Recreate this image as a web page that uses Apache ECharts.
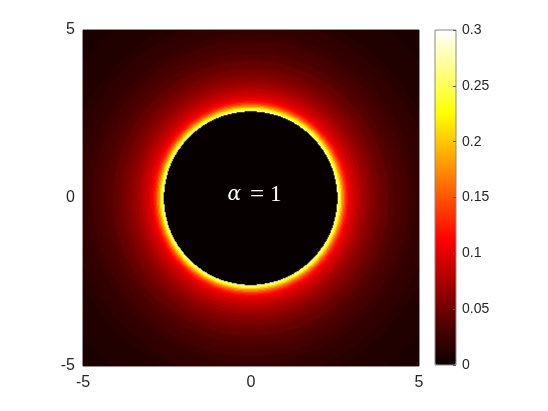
<!DOCTYPE html>
<html>
<head>
<meta charset="utf-8">
<script src="https://cdn.jsdelivr.net/npm/echarts@6/dist/echarts.min.js"></script>
<style>
  html, body { margin: 0; padding: 0; background: #fff; }
  #chart { width: 548px; height: 411px; }
</style>
</head>
<body>
<div id="chart"></div>
<script>
  // radial profile: distance from centre -> value
  var profileR = [2.58, 2.62, 2.66, 2.70, 2.74, 2.78, 2.82, 2.86, 2.90, 2.95, 3.00,
    3.10, 3.20, 3.30, 3.40, 3.50, 3.60, 3.70, 3.80, 3.90, 4.00,
    4.20, 4.40, 4.60, 4.80, 5.00, 5.25, 5.50, 5.75, 6.00, 6.30, 6.60, 6.90, 7.10]
  var profileV = [0.290, 0.255, 0.225, 0.200, 0.175, 0.155, 0.138, 0.125, 0.114, 0.105, 0.098,
    0.090, 0.083, 0.076, 0.070, 0.064, 0.059, 0.055, 0.051, 0.047, 0.044,
    0.038, 0.033, 0.029, 0.025, 0.022, 0.019, 0.016, 0.014, 0.012, 0.011, 0.010, 0.009, 0.008]
  var holeRadius = 2.58 // dark disc in the middle
  var holeValue = 0
  var axisTicks = [-5, 0, 5]
  var colorbarTicks = [0, 0.05, 0.1, 0.15, 0.2, 0.25, 0.3]
  var hotColors = ['#0b0000', '#550000', '#aa0000', '#ff0000', '#ff5500', '#ffaa00', '#ffff00', '#ffff80', '#ffffff']

  var N = 336 // cells per side
  var cats = []
  for (var i = 0; i < N; i++) cats.push(i)

  function lookup (r) {
    if (r < holeRadius) return holeValue
    var best = 0
    for (var k = 1; k < profileR.length; k++) {
      if (Math.abs(profileR[k] - r) < Math.abs(profileR[best] - r)) best = k
    }
    return profileV[best]
  }

  var cells = []
  for (var ix = 0; ix < N; ix++) {
    for (var iy = 0; iy < N; iy++) {
      var x = -5 + (ix + 0.5) * 10 / N
      var y = -5 + (iy + 0.5) * 10 / N
      cells.push([ix, iy, lookup(Math.sqrt(x * x + y * y))])
    }
  }

  var labelStyle = {color: '#262626', fontFamily: 'Liberation Sans, Arial, sans-serif', fontSize: 16}
  var chart = echarts.init(document.getElementById('chart'))
  chart.setOption({
    animation: false,
    backgroundColor: '#fff',
    grid: [
      {left: 83, top: 30, width: 336, height: 336, show: true, borderColor: '#b0b0b0', borderWidth: 1},
      {left: 435, top: 30, width: 21, height: 335, show: true, borderColor: '#8a8a8a', borderWidth: 1, backgroundColor: 'transparent', zlevel: 1}
    ],
    xAxis: [
      {type: 'category', data: cats, gridIndex: 0, position: 'top', show: false},
      {type: 'value', gridIndex: 0, position: 'bottom', min: axisTicks[0], max: axisTicks[2], interval: 5,
        axisLine: {show: false, onZero: false}, axisTick: {show: false}, splitLine: {show: false},
        axisLabel: Object.assign({margin: 9}, labelStyle)},
      {type: 'value', gridIndex: 1, position: 'bottom', show: false, min: 0, max: 1, axisLine: {onZero: false}}
    ],
    yAxis: [
      {type: 'category', data: cats, gridIndex: 0, position: 'right', show: false},
      {type: 'value', gridIndex: 0, position: 'left', min: axisTicks[0], max: axisTicks[2], interval: 5,
        axisLine: {show: false, onZero: false}, axisTick: {show: false}, splitLine: {show: false},
        axisLabel: Object.assign({margin: 8}, labelStyle)},
      {type: 'value', gridIndex: 1, position: 'right', min: colorbarTicks[0], max: colorbarTicks[6], interval: 0.05, zlevel: 1,
        axisLine: {show: false, onZero: false},
        axisTick: {show: true, inside: true, length: 3, lineStyle: {color: '#555'}},
        splitLine: {show: false},
        axisLabel: {margin: 6, color: '#262626', fontFamily: 'Liberation Sans, Arial, sans-serif', fontSize: 14}}
    ],
    visualMap: {
      type: 'continuous',
      min: colorbarTicks[0],
      max: colorbarTicks[6],
      seriesIndex: 0,
      calculable: false,
      left: 435,
      top: 30,
      padding: 0,
      itemWidth: 21,
      itemHeight: 335,
      text: null,
      inRange: {color: hotColors}
    },
    series: [{
      type: 'heatmap',
      xAxisIndex: 0,
      yAxisIndex: 0,
      data: cells,
      progressive: 0,
      emphasis: {disabled: true},
      itemStyle: {borderWidth: 0}
    }],
    graphic: [{
      type: 'text',
      x: 254.5,
      y: 195,
      z: 100,
      style: {
        text: '{a|α}{b|=}{c|1}',
        align: 'center',
        verticalAlign: 'middle',
        rich: {
          a: {fontFamily: 'DejaVu Serif', fontStyle: 'italic', fontSize: 20, fill: '#fff', lineHeight: 26, padding: [0, 9, 0, 0]},
          b: {fontFamily: 'Liberation Serif', fontSize: 25, fill: '#fff', lineHeight: 26, padding: [0, 6, 0, 0]},
          c: {fontFamily: 'Liberation Serif', fontSize: 23, fill: '#fff', lineHeight: 26}
        }
      }
    }]
  })
</script>
</body>
</html>
